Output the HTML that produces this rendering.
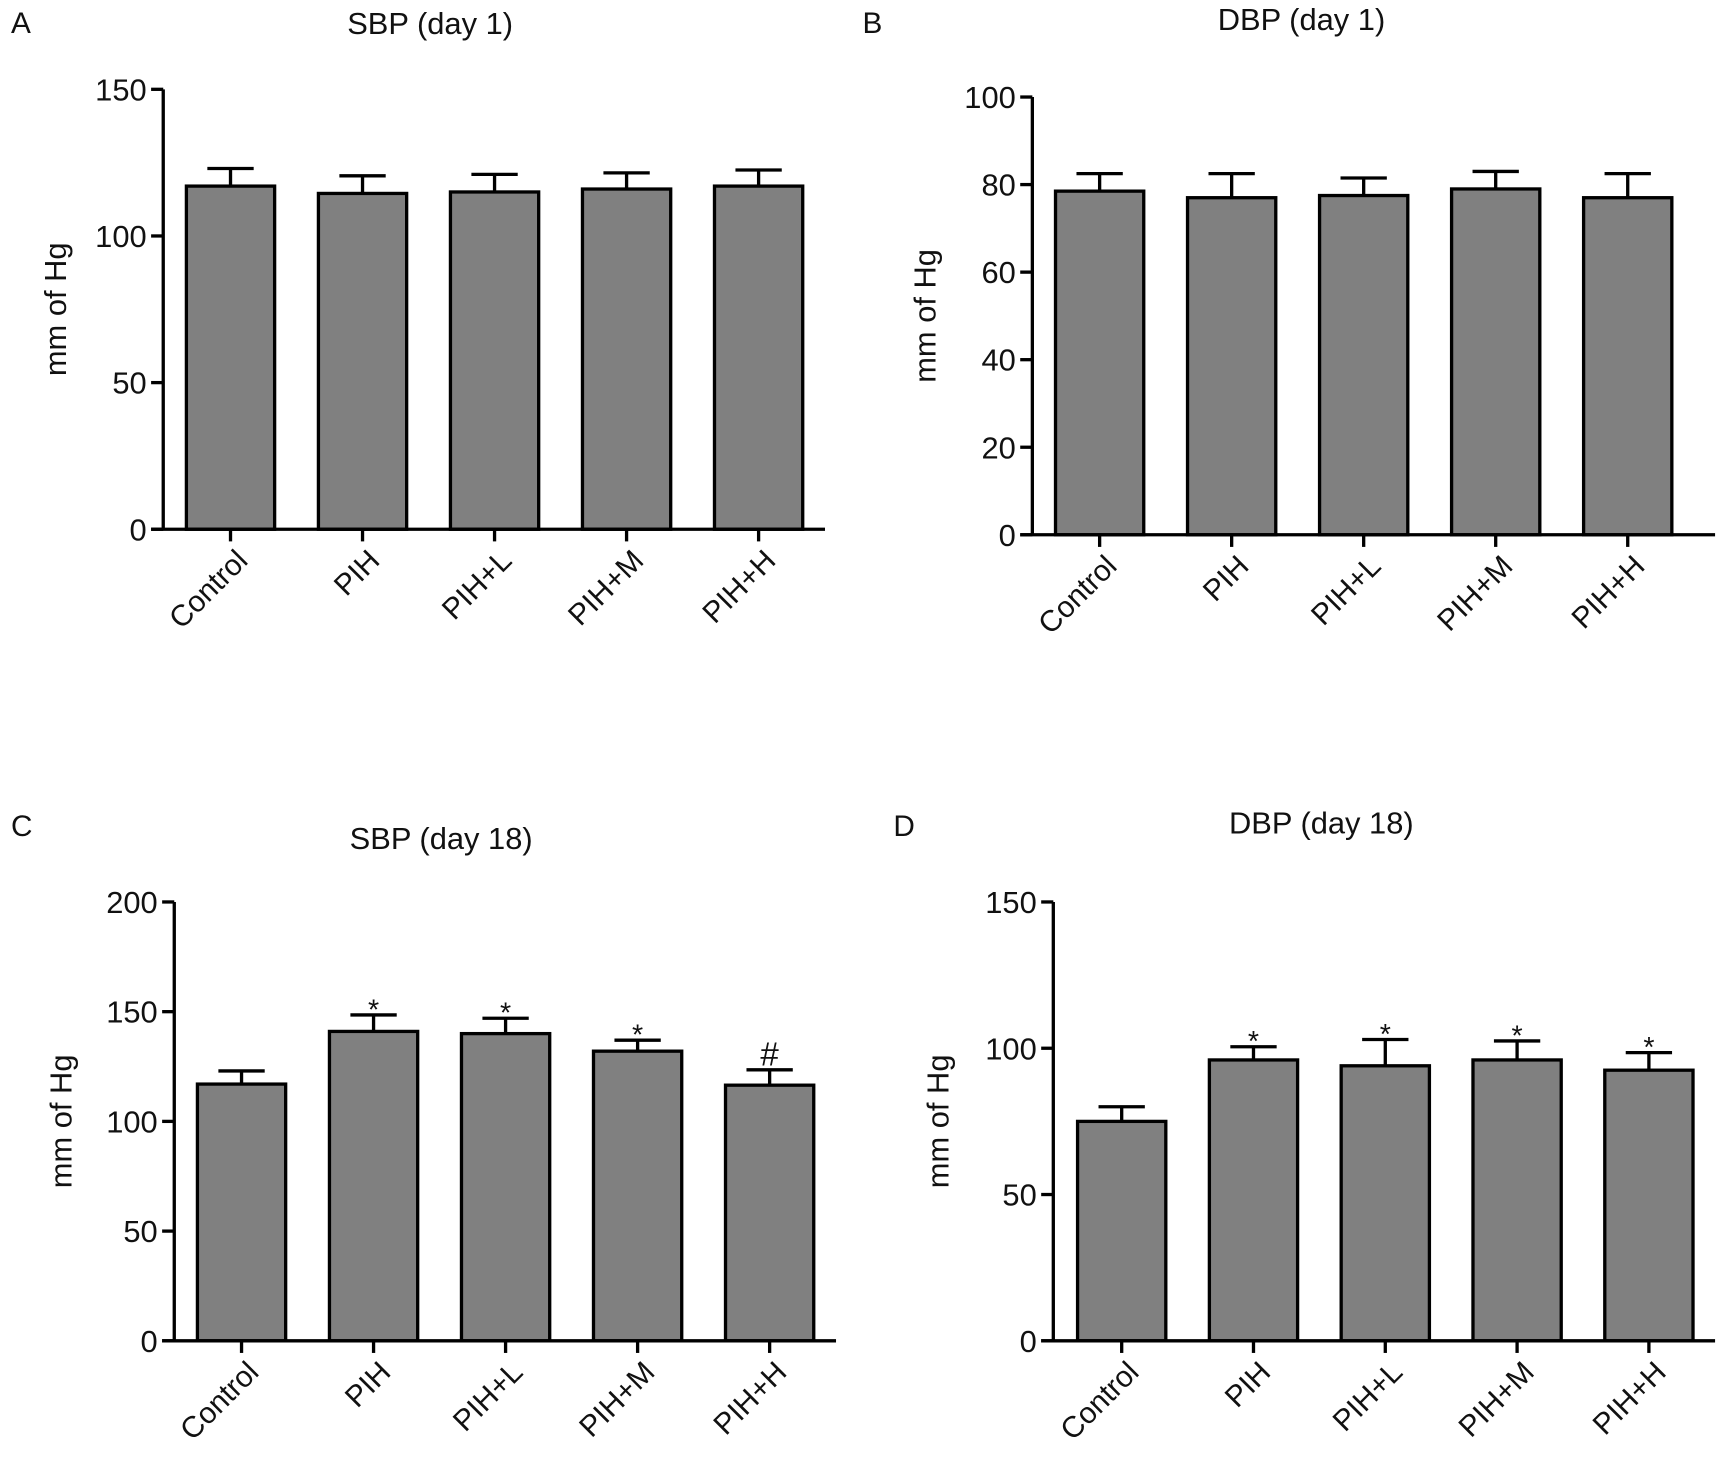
<!DOCTYPE html>
<html><head><meta charset="utf-8"><style>
html,body{margin:0;padding:0;background:#fff;}
svg{display:block;font-family:"Liberation Sans",Arial,sans-serif;}
</style></head><body>
<svg id="fig" width="1725" height="1461" viewBox="0 0 1564 1325" preserveAspectRatio="none"></svg>
<script>
const categories = ["Control","PIH","PIH+L","PIH+M","PIH+H"];
const sbpDay1 = [117,114.5,115,116,117];
const sbpDay1Err = [6,6,6,5.5,5.5];
const dbpDay1 = [78.5,77,77.5,79,77];
const dbpDay1Err = [4,5.5,4,4,5.5];
const sbpDay18 = [117,141,140,132,116.5];
const sbpDay18Err = [6,7.5,7,5,7];
const sbpDay18Marks = ["","*","*","*","#"];
const dbpDay18 = [75,96,94,96,92.5];
const dbpDay18Err = [5,4.5,9,6.5,6];
const dbpDay18Marks = ["","*","*","*","*"];
const ticksA = [0,50,100,150];
const ticksB = [0,20,40,60,80,100];
const ticksC = [0,50,100,150,200];
const ticksD = [0,50,100,150];

const NS="http://www.w3.org/2000/svg";
const svg=document.getElementById('fig');
function mk(tag,attrs,parent,text){
  const e=document.createElementNS(NS,tag);
  for(const k in attrs)e.setAttribute(k,attrs[k]);
  if(text!==undefined)e.textContent=text;
  (parent||svg).appendChild(e);return e;
}
function panel(o){
  const g=mk('g',{});
  
  
  const yS=v=>o.y0-(v/o.max)*(o.y0-o.yTop);
  const xS=i=>o.x0+i*o.step;
  const lt=mk('text',{x:o.lx,y:o.ly,'font-size':27,fill:'#111'},g,o.letter);
  
  
  const t=mk('text',{x:o.tx,y:o.ty,'font-size':28,'text-anchor':'middle',fill:'#111'},g,o.title);
  
  
  const yl=mk('text',{x:0,y:0,'font-size':28,'text-anchor':'middle',fill:'#111',transform:`translate(${o.ylx},${(o.y0+o.yTop)/2}) rotate(-90)`},g,'mm of Hg');
  
  
  o.vals.forEach((v,i)=>{
    const cx=xS(i);
    const b=mk('rect',{x:cx-40,y:yS(v),width:80,height:o.y0-yS(v),fill:'#808080',stroke:'#000','stroke-width':3},g);
    
    
    const top=yS(v+o.err[i]);
    const eb=mk('path',{d:`M${cx},${yS(v)}V${top}M${cx-21},${top}H${cx+21}`,stroke:'#000','stroke-width':3,fill:'none'},g);
    
    
    if(o.marks&&o.marks[i]){
      const m=mk('text',{x:cx,y:top-(o.marks[i]=='#'?4:-4),'font-size':o.marks[i]=='#'?30:26,'text-anchor':'middle',fill:'#111'},g,o.marks[i]);
      
      
    }
    const tk=mk('line',{x1:cx,x2:cx,y1:o.y0,y2:o.y0+11,stroke:'#000','stroke-width':3},g);
    
    
    const cl=mk('text',{x:0,y:0,'font-size':27,'text-anchor':'end',fill:'#111',transform:`translate(${cx+17},${o.y0+30}) rotate(-45)`},g,categories[i]);
    
    
  });
  const ax=mk('path',{d:`M${o.ax},${o.yTop}V${o.y0}M${o.ax-11},${o.y0}H${o.xEnd}`,stroke:'#000','stroke-width':3,fill:'none'},g);
  
  
  o.ticks.forEach(v=>{
    const y=yS(v);
    const tl=mk('line',{x1:o.ax-11,x2:o.ax,y1:y,y2:y,stroke:'#000','stroke-width':3},g);
    
    
    const tt=mk('text',{x:o.ax-15,y:y+10,'font-size':28,'text-anchor':'end',fill:'#111'},g,String(v));
    
    
  });
}
panel({name:'panel-a-sbp-day1',letter:'A',lx:10,ly:30,title:'SBP (day 1)',tx:390,ty:31,ylx:60,
  ax:148,yTop:81,y0:480,max:150,xEnd:748,x0:209,step:119.7,vals:sbpDay1,err:sbpDay1Err,ticks:ticksA});
panel({name:'panel-b-dbp-day1',letter:'B',lx:782,ly:30,title:'DBP (day 1)',tx:1180,ty:27,ylx:848,
  ax:936,yTop:88,y0:485,max:100,xEnd:1555,x0:997,step:119.7,vals:dbpDay1,err:dbpDay1Err,ticks:ticksB});
panel({name:'panel-c-sbp-day18',letter:'C',lx:10,ly:758,title:'SBP (day 18)',tx:400,ty:770,ylx:65,
  ax:158,yTop:818,y0:1216,max:200,xEnd:758,x0:219,step:119.7,vals:sbpDay18,err:sbpDay18Err,marks:sbpDay18Marks,ticks:ticksC});
panel({name:'panel-d-dbp-day18',letter:'D',lx:810,ly:758,title:'DBP (day 18)',tx:1198,ty:756,ylx:860,
  ax:955,yTop:818,y0:1216,max:150,xEnd:1555,x0:1017,step:119.5,vals:dbpDay18,err:dbpDay18Err,marks:dbpDay18Marks,ticks:ticksD});
</script>
</body></html>
